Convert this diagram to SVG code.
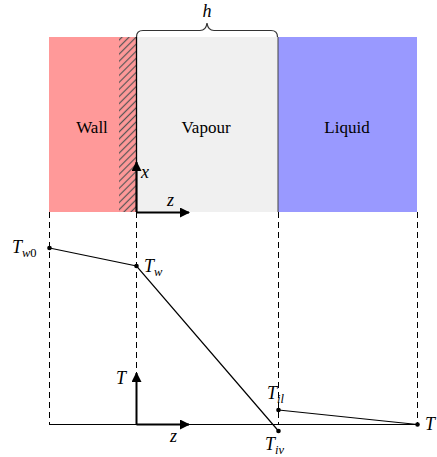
<svg xmlns="http://www.w3.org/2000/svg" width="437" height="457" viewBox="0 0 437 457">
<defs>
<style>
text{font-family:'Liberation Serif','Times New Roman',serif;fill:#000}
.lbl{font-size:17px}
.m{font-size:18px;font-style:italic}
.sub{font-size:12.5px;font-style:italic}
.dash{stroke:#000;stroke-width:1;stroke-dasharray:6,4;fill:none}
.ln{stroke:#000;stroke-width:1.2;fill:none}
.ax{stroke:#000;stroke-width:2;fill:none}
</style>
<pattern id="hatch" patternUnits="userSpaceOnUse" width="5" height="5" patternTransform="rotate(-45)">
<rect width="5" height="5" fill="#ff9999"/>
<line x1="0" y1="2.5" x2="5" y2="2.5" stroke="#555" stroke-width="1.2"/>
</pattern>
<marker id="arr" viewBox="0 0 10 10" refX="9" refY="5" markerWidth="5" markerHeight="5" orient="auto" markerUnits="strokeWidth">
<path d="M0,0 L10,5 L0,10 z" fill="#000"/>
</marker>
</defs>
<g id="wall">
<rect x="49" y="37" width="87" height="175" fill="#ff9999"/>
<rect x="119" y="37" width="17" height="175" fill="url(#hatch)"/>
<text class="lbl" x="92" y="133" text-anchor="middle">Wall</text>
</g>
<g id="vapour">
<rect x="136" y="37" width="142" height="175" fill="#f0f0f0"/>
<text class="lbl" x="206" y="133" text-anchor="middle">Vapour</text>
</g>
<g id="liquid">
<rect x="278" y="37" width="139" height="175" fill="#9999ff"/>
<text class="lbl" x="347" y="133" text-anchor="middle">Liquid</text>
</g>
<g id="brace">
<path d="M136.5,37 Q136.5,30.5 143,30.5 L200,30.5 Q206,30.5 207,23 Q208,30.5 214,30.5 L271,30.5 Q277.5,30.5 277.5,37" stroke="#333" stroke-width="1.2" fill="none"/>
<text class="m" x="207" y="17" text-anchor="middle">h</text>
</g>
<g id="connectors">
<line x1="136.5" y1="37" x2="136.5" y2="212" stroke="#000" stroke-width="1.3"/>
<line x1="278" y1="37" x2="278" y2="212" stroke="#444" stroke-width="1"/>
<line class="dash" x1="49.5" y1="212" x2="49.5" y2="424"/>
<line class="dash" x1="136.5" y1="212" x2="136.5" y2="424"/>
<line class="dash" x1="278.5" y1="212" x2="278.5" y2="424"/>
<line class="dash" x1="417.5" y1="212" x2="417.5" y2="424"/>
<line class="ax" x1="136.5" y1="212" x2="136.5" y2="162" marker-end="url(#arr)"/>
<line class="ax" x1="136.5" y1="212.5" x2="189" y2="212.5" marker-end="url(#arr)"/>
<line x1="49" y1="424.5" x2="417" y2="424.5" stroke="#000" stroke-width="1.2"/>
<line class="ax" x1="136.5" y1="424.5" x2="136.5" y2="373" marker-end="url(#arr)"/>
<line class="ax" x1="136.5" y1="424.5" x2="189" y2="424.5" marker-end="url(#arr)"/>
<polyline class="ln" points="49.5,248 136.5,266 278.5,431"/>
<line class="ln" x1="278.5" y1="410" x2="417.5" y2="424.5"/>
</g>
<g id="points">
<circle cx="49.5" cy="248" r="2.3"/>
<circle cx="136.5" cy="266" r="2.3"/>
<circle cx="278.5" cy="431" r="2.3"/>
<circle cx="278.5" cy="410" r="2.3"/>
<circle cx="417.5" cy="424.5" r="2.3"/>
</g>
<g id="labels">
<text class="m" x="141" y="178">x</text>
<text class="m" x="167" y="206">z</text>
<text class="m" x="116" y="384">T</text>
<text class="m" x="170" y="442">z</text>
<text class="m" x="12" y="253">T<tspan class="sub" dy="4">w</tspan><tspan style="font-style:normal;font-size:12.5px">0</tspan></text>
<text class="m" x="144" y="272">T<tspan class="sub" dy="4">w</tspan></text>
<text class="m" x="267" y="399">T<tspan class="sub" dy="4">il</tspan></text>
<text class="m" x="265" y="450">T<tspan class="sub" dy="4">iv</tspan></text>
<text class="m" x="425" y="430">T</text>
</g>
</svg>
